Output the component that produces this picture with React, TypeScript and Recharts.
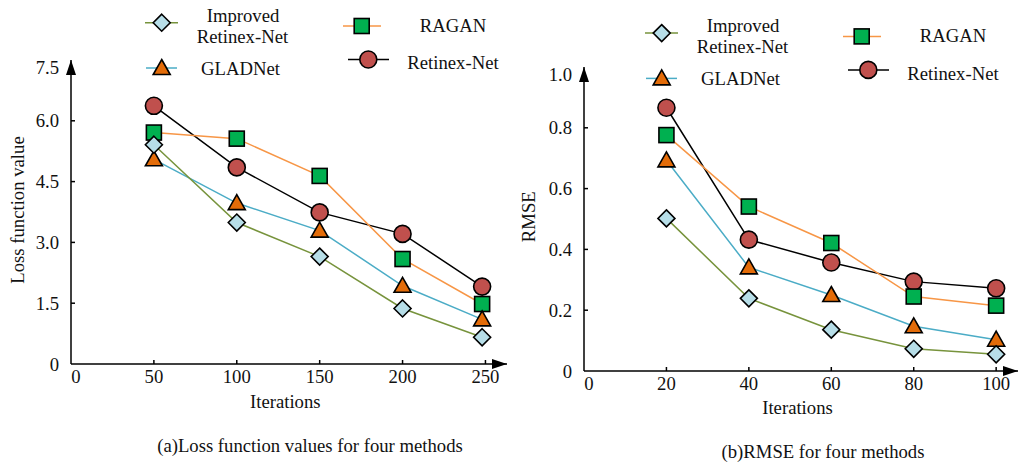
import React from "react";
import {
  LineChart,
  Line,
  XAxis,
  YAxis,
  ReferenceDot,
} from "recharts";

const FONT = "'Liberation Serif', 'Times New Roman', serif";
const FS = 18.7;

// (a) loss function values
const iterA = [50, 100, 150, 200, 248];
const lossImproved = [5.41, 3.49, 2.65, 1.37, 0.66];
const lossGlad = [5.05, 3.97, 3.29, 1.93, 1.1];
const lossRagan = [5.71, 5.56, 4.64, 2.59, 1.48];
const lossRetinex = [6.37, 4.85, 3.74, 3.21, 1.91];
const ticksXA = [0, 50, 100, 150, 200, 250];
const ticksYA = [0, 1.5, 3, 4.5, 6, 7.5];

// (b) RMSE
const iterB = [20, 40, 60, 80, 100];
const rmseImproved = [0.502, 0.239, 0.136, 0.073, 0.055];
const rmseGlad = [0.693, 0.341, 0.25, 0.147, 0.103];
const rmseRagan = [0.776, 0.541, 0.421, 0.245, 0.215];
const rmseRetinex = [0.866, 0.432, 0.357, 0.294, 0.272];
const ticksXB = [0, 20, 40, 60, 80, 100];
const ticksYB = [0, 0.2, 0.4, 0.6, 0.8, 1.0];

const C = {
  improvedLine: "#77933c",
  improvedFill: "#b7dee8",
  gladLine: "#4bacc6",
  gladFill: "#e36c09",
  raganLine: "#f79646",
  raganFill: "#00b050",
  retinexLine: "#000000",
  retinexFill: "#c0504d",
};

const toRows = (xs: number[], a: number[], b: number[], c: number[], d: number[]) =>
  xs.map((x, i) => ({ x, improved: a[i], glad: b[i], ragan: c[i], retinex: d[i] }));

const dataA = toRows(iterA, lossImproved, lossGlad, lossRagan, lossRetinex);
const dataB = toRows(iterB, rmseImproved, rmseGlad, rmseRagan, rmseRetinex);

// marker shapes
const Diamond = ({ cx, cy }: any) => (
  <polygon
    points={`${cx},${cy - 8.5} ${cx + 8.5},${cy} ${cx},${cy + 8.5} ${cx - 8.5},${cy}`}
    fill={C.improvedFill}
    stroke="#000"
    strokeWidth={1.6}
  />
);
const Triangle = ({ cx, cy }: any) => (
  <polygon
    points={`${cx},${cy - 8.5} ${cx + 8.5},${cy + 6.5} ${cx - 8.5},${cy + 6.5}`}
    fill={C.gladFill}
    stroke="#000"
    strokeWidth={1.6}
  />
);
const Square = ({ cx, cy }: any) => (
  <rect x={cx - 7.5} y={cy - 7.5} width={15} height={15} fill={C.raganFill} stroke="#000" strokeWidth={1.6} />
);
const Circle = ({ cx, cy }: any) => (
  <circle cx={cx} cy={cy} r={8.5} fill={C.retinexFill} stroke="#000" strokeWidth={1.6} />
);

const dotFn = (Shape: any) => (p: any) =>
  p.cx == null ? <g key={p.key} /> : <Shape key={p.key} cx={p.cx} cy={p.cy} />;

const fmt = (v: number) => (v === 0 ? "0" : v.toFixed(1));

// y tick: label + small inward tick mark; the top label sits near the arrow
const makeYTick = (top: number) => (props: any) => {
  const { x, y, payload } = props;
  const v = payload.value;
  const axisX = x + 12;
  return (
    <g>
      {v !== 0 && v !== top && <line x1={axisX} x2={axisX + 4} y1={y} y2={y} stroke="#000" strokeWidth={1.5} />}
      <text x={x} y={y + (v === top ? 7 : 0)} dy="0.355em" textAnchor="end" fontFamily={FONT} fontSize={FS} fill="#111">
        {fmt(v)}
      </text>
    </g>
  );
};

const XTick = (props: any) => {
  const { x, y, payload } = props;
  const v = payload.value;
  const axisY = y - 6;
  return (
    <g>
      {v !== 0 && <line x1={x} x2={x} y1={axisY} y2={axisY - 4} stroke="#000" strokeWidth={1.5} />}
      <text x={x + (v === 0 ? 5 : 0)} y={y} dy="0.71em" textAnchor="middle" fontFamily={FONT} fontSize={FS} fill="#111">
        {v}
      </text>
    </g>
  );
};

const ArrowUp = ({ cx, cy }: any) => (
  <polygon points={`${cx},${cy} ${cx + 5},${cy + 15} ${cx - 5},${cy + 15}`} fill="#000" />
);
const ArrowRight = ({ cx, cy }: any) => (
  <polygon points={`${cx},${cy} ${cx - 15},${cy - 5} ${cx - 15},${cy + 5}`} fill="#000" />
);

function Series() {
  return null;
}

function Panel({
  data,
  left,
  width,
  height,
  margin,
  yWidth,
  xHeight,
  xMax,
  yMax,
  xTicks,
  yTicks,
}: any) {
  return (
    <div style={{ position: "absolute", left, top: 0 }}>
      <LineChart width={width} height={height} data={data} margin={margin}>
        <XAxis
          dataKey="x"
          type="number"
          domain={[0, xMax]}
          ticks={xTicks}
          height={xHeight}
          tickSize={0}
          tickMargin={6}
          tickLine={false}
          axisLine={{ stroke: "#000", strokeWidth: 1.5 }}
          tick={XTick}
          interval={0}
        />
        <YAxis
          type="number"
          domain={[0, yMax]}
          ticks={yTicks}
          width={yWidth}
          tickSize={0}
          tickMargin={12}
          tickLine={false}
          axisLine={{ stroke: "#000", strokeWidth: 1.5 }}
          tick={makeYTick(yMax)}
          interval={0}
        />
        <Line dataKey="retinex" type="linear" stroke={C.retinexLine} strokeWidth={1.5} dot={dotFn(Circle)} activeDot={false} isAnimationActive={false} />
        <Line dataKey="ragan" type="linear" stroke={C.raganLine} strokeWidth={1.5} dot={dotFn(Square)} activeDot={false} isAnimationActive={false} />
        <Line dataKey="glad" type="linear" stroke={C.gladLine} strokeWidth={1.5} dot={dotFn(Triangle)} activeDot={false} isAnimationActive={false} />
        <Line dataKey="improved" type="linear" stroke={C.improvedLine} strokeWidth={1.5} dot={dotFn(Diamond)} activeDot={false} isAnimationActive={false} />
        <ReferenceDot x={0} y={yMax} ifOverflow="visible" shape={ArrowUp} />
        <ReferenceDot x={xMax} y={0} ifOverflow="visible" shape={ArrowRight} />
      </LineChart>
    </div>
  );
}

// legend, laid out in the left panel's coordinates and shifted for the right one
function LegendItems({ dx, dy }: { dx: number; dy: number }) {
  const t = { fontFamily: FONT, fontSize: FS, fill: "#111", textAnchor: "middle" as const };
  return (
    <g transform={`translate(${dx},${dy})`}>
      <line x1={145} x2={178} y1={22.7} y2={22.7} stroke={C.improvedLine} strokeWidth={1.5} />
      <Diamond cx={161.7} cy={22.7} />
      <text x={243} y={15} dy="0.35em" {...t}>Improved</text>
      <text x={242.5} y={36.5} dy="0.35em" {...t}>Retinex-Net</text>

      <line x1={146} x2={177} y1={68} y2={68} stroke={C.gladLine} strokeWidth={1.5} />
      <Triangle cx={161.7} cy={68} />
      <text x={240.5} y={68.3} dy="0.35em" {...t}>GLADNet</text>

      <line x1={343} x2={381} y1={26} y2={26} stroke={C.raganLine} strokeWidth={1.5} />
      <Square cx={361.7} cy={26} />
      <text x={453} y={25} dy="0.35em" {...t}>RAGAN</text>

      <line x1={348} x2={389} y1={59.5} y2={59.5} stroke={C.retinexLine} strokeWidth={1.5} />
      <Circle cx={368.3} cy={59.5} />
      <text x={453} y={62.7} dy="0.35em" {...t}>Retinex-Net</text>
    </g>
  );
}

export default function App() {
  const t = { fontFamily: FONT, fontSize: FS, fill: "#111", textAnchor: "middle" as const };
  return (
    <div style={{ position: "absolute", left: 0, top: 0, width: 1020, height: 463, background: "#fff", overflow: "hidden" }}>
      <Panel
        data={dataA}
        left={0}
        width={520}
        height={420}
        margin={{ top: 60, right: 13, left: 0, bottom: 0 }}
        yWidth={71}
        xHeight={56}
        xMax={263}
        yMax={7.5}
        xTicks={ticksXA}
        yTicks={ticksYA}
      />
      <Panel
        data={dataB}
        left={500}
        width={520}
        height={420}
        margin={{ top: 67, right: 2, left: 0, bottom: 0 }}
        yWidth={84}
        xHeight={49}
        xMax={105.3}
        yMax={1.0}
        xTicks={ticksXB}
        yTicks={ticksYB}
      />
      <svg width={1020} height={463} style={{ position: "absolute", left: 0, top: 0, pointerEvents: "none" }}>
        <LegendItems dx={0} dy={0} />
        <LegendItems dx={500} dy={10.4} />
        <text x={285.3} y={401} dy="0.35em" {...t}>Iterations</text>
        <text x={797.5} y={407} dy="0.35em" {...t}>Iterations</text>
        <text x={17} y={210} dy="0.35em" transform="rotate(-90 17 210)" {...t}>Loss function value</text>
        <text x={528} y={216.7} dy="0.35em" transform="rotate(-90 528 216.7)" {...t}>RMSE</text>
        <text x={310} y={445} dy="0.35em" {...t}>(a)Loss function values for four methods</text>
        <text x={823} y={451.7} dy="0.35em" {...t}>(b)RMSE for four methods</text>
      </svg>
    </div>
  );
}
